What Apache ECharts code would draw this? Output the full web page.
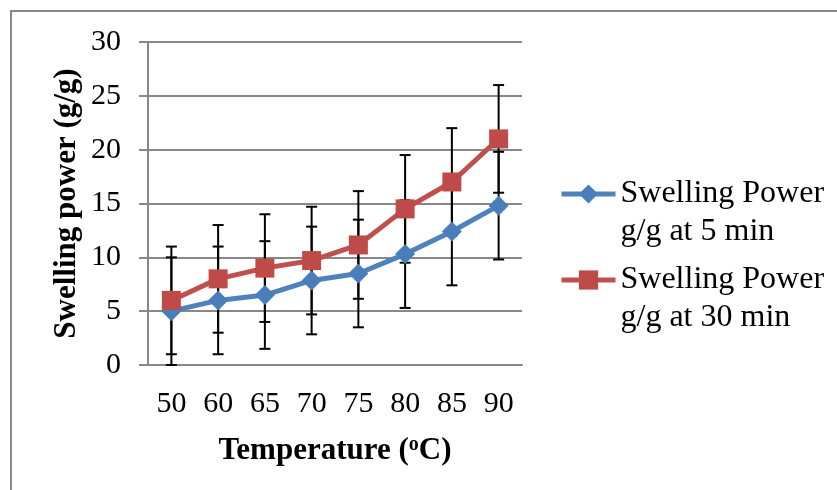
<!DOCTYPE html>
<html>
<head>
<meta charset="utf-8">
<script src="https://cdn.jsdelivr.net/npm/echarts@6/dist/echarts.min.js"></script>
<style>html,body{margin:0;padding:0;background:#fff;}#c{width:837px;height:490px;}</style>
</head>
<body>
<div id="c"></div>
<script>
const categories = ['50', '60', '65', '70', '75', '80', '85', '90'];
const swell5 = [5.0, 6.0, 6.5, 7.85, 8.5, 10.3, 12.4, 14.8];
const swell30 = [6.0, 8.0, 9.0, 9.7, 11.15, 14.5, 17.0, 21.0];
const err5 = [5, 5, 5, 5, 5, 5, 5, 5];
const err30 = [5, 5, 5, 5, 5, 5, 5, 5];
const yTicks = [0, 5, 10, 15, 20, 25, 30];
const name5 = 'Swelling Power\ng/g at 5 min';
const name30 = 'Swelling Power\ng/g at 30 min';

const FONT = 'Liberation Serif';
const chart = echarts.init(document.getElementById('c'));

function errData(vals, errs) {
  return vals.map((v, i) => [i, v - errs[i], v + errs[i]]);
}
function renderErr(params, api) {
  const x = api.value(0);
  const lo = api.coord([x, api.value(1)]);
  const hi = api.coord([x, api.value(2)]);
  const hw = 5.5;
  const st = { stroke: '#000', lineWidth: 2 };
  return {
    type: 'group',
    children: [
      { type: 'line', shape: { x1: lo[0], y1: lo[1], x2: hi[0], y2: hi[1] }, style: st },
      { type: 'line', shape: { x1: lo[0] - hw, y1: lo[1], x2: lo[0] + hw, y2: lo[1] }, style: st },
      { type: 'line', shape: { x1: hi[0] - hw, y1: hi[1], x2: hi[0] + hw, y2: hi[1] }, style: st }
    ]
  };
}

const legendText = { fontFamily: FONT, fontSize: 32, color: '#000', lineHeight: 38 };
const legendBase = {
  left: 559, padding: 0, itemWidth: 54, itemHeight: 24,
  textStyle: legendText,
  lineStyle: { width: 5 },
  formatter: n => '\u00a0\n' + n
};

chart.setOption({
  animation: false,
  backgroundColor: '#fff',
  graphic: [{
    type: 'rect', shape: { x: 11, y: 11, width: 900, height: 600 },
    style: { fill: 'none', stroke: '#888', lineWidth: 2 }, silent: true, z: -10
  }],
  grid: { left: 148, top: 42, right: 315, bottom: 125 },
  legend: [
    Object.assign({ data: [name5], top: 137 }, legendBase),
    Object.assign({ data: [name30], top: 223 }, legendBase)
  ],
  xAxis: {
    type: 'category', data: categories, boundaryGap: true,
    axisLine: { lineStyle: { color: '#888', width: 2 } },
    axisTick: { show: false },
    axisLabel: { fontFamily: FONT, fontSize: 30, color: '#000', margin: 24 },
    name: 'Temperature ({s|o}C)',
    nameLocation: 'middle', nameGap: 70,
    nameTextStyle: {
      fontFamily: FONT, fontSize: 31, fontWeight: 'bold', color: '#000',
      rich: { s: { fontFamily: FONT, fontSize: 20, fontWeight: 'bold', color: '#000', verticalAlign: 'top', padding: [0, 0, 10, 0] } }
    }
  },
  yAxis: {
    type: 'value', min: 0, max: 30, interval: 5,
    axisLine: { show: true, lineStyle: { color: '#888', width: 2 } },
    axisTick: { show: true, length: 9, lineStyle: { color: '#888', width: 2 } },
    splitLine: { lineStyle: { color: '#888', width: 2 } },
    axisLabel: { fontFamily: FONT, fontSize: 30, color: '#000', margin: 27,
      formatter: v => yTicks.includes(v) ? String(v) : '' },
    name: 'Swelling power (g/g)',
    nameLocation: 'middle', nameGap: 66,
    nameTextStyle: { fontFamily: FONT, fontSize: 31, fontWeight: 'bold', color: '#000' }
  },
  series: [
    { type: 'custom', renderItem: renderErr, data: errData(swell5, err5), z: 1, silent: true },
    { type: 'custom', renderItem: renderErr, data: errData(swell30, err30), z: 1, silent: true },
    {
      name: name5, type: 'line', data: swell5, z: 3,
      symbol: 'diamond', symbolSize: 20,
      lineStyle: { color: '#4F81BD', width: 5 },
      itemStyle: { color: '#4A7EBB', borderWidth: 0 }
    },
    {
      name: name30, type: 'line', data: swell30, z: 4,
      symbol: 'rect', symbolSize: 19,
      lineStyle: { color: '#C0504D', width: 5 },
      itemStyle: { color: '#BE4B48', borderWidth: 0 }
    }
  ]
});
</script>
</body>
</html>
